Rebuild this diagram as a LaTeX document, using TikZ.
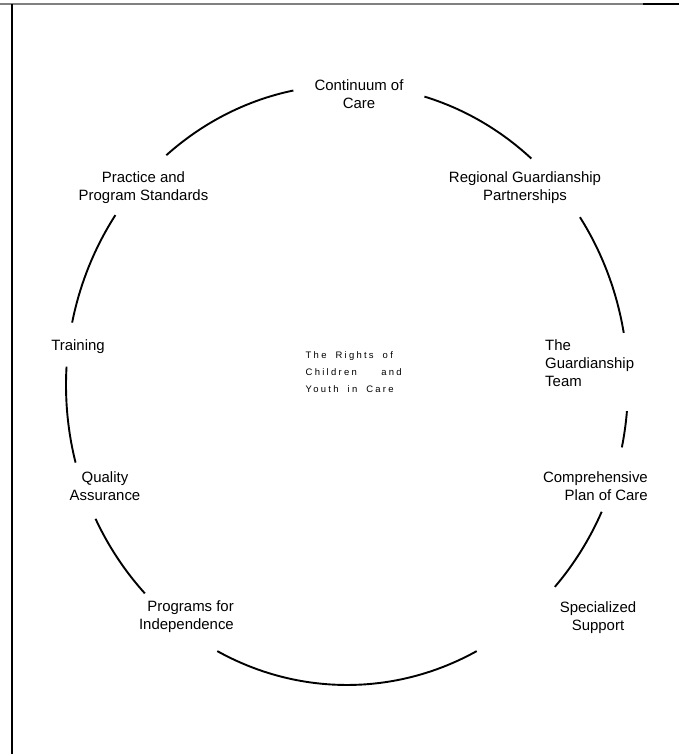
\documentclass[tikz,border=0pt]{standalone}
\usepackage{fontspec}
\setmainfont{Liberation Sans}
\newfontfamily\spacedfont[LetterSpace=24]{Liberation Sans}
\newcommand\corefont{\spacedfont\fontsize{9.5}{17}\selectfont}
\newcommand\wgap{\hspace{9bp}}
\usepackage{xcolor}
\definecolor{inkblack}{RGB}{0,0,0}
\definecolor{rulegray}{RGB}{128,128,128}
\tikzset{
  ring/.style={draw=inkblack, line width=1.9bp, x radius=281, y radius=300},
  lbl/.style={font=\fontsize{15}{18}\selectfont, align=center, inner sep=0pt},
  core/.style={font=\corefont, text width=96bp, align=left, inner sep=0pt},
}

\begin{document}
\begin{tikzpicture}[x=1bp, y=1bp]

  \useasboundingbox (0,0) rectangle (679,754);

  % frame
  \draw[rulegray, line width=1.5bp] (0,750) -- (643,750);
  \draw[inkblack, line width=1.5bp] (643,750) -- (679,750);
  \draw[inkblack, line width=2.2bp] (12,750) -- (12,0);

  \coordinate (ctr) at (347,369);

  % the ring, broken at each label
  \draw[ring] (ctr) ++(101:281 and 300) arc[start angle=101, end angle=130];
  \draw[ring] (ctr) ++(145.5:281 and 300) arc[start angle=145.5, end angle=168];
  \draw[ring] (ctr) ++(176.5:281 and 300) arc[start angle=176.5, end angle=195];
  \draw[ring] (ctr) ++(206.5:281 and 300) arc[start angle=206.5, end angle=224];
  \draw[ring] (ctr) ++(242.5:281 and 300) arc[start angle=242.5, end angle=297.5];
  \draw[ring] (ctr) ++(317.7:281 and 300) arc[start angle=317.7, end angle=335];
  \draw[ring] (ctr) ++(348:281 and 300) arc[start angle=348, end angle=355];
  \draw[ring] (ctr) ++(10:281 and 300) arc[start angle=10, end angle=34];
  \draw[ring] (ctr) ++(49:281 and 300) arc[start angle=49, end angle=74];

  \node[core, anchor=west] (rights) at (305.5,382) {The\wgap Rights\wgap of\\
    \makebox[\linewidth][l]{Children\hfill and}\\Youth\wgap in\wgap Care};

  \node[lbl] (continuum) at (359,660) {Continuum of\\Care};
  \node[lbl] (regional)  at (525,566.5) {Regional Guardianship\\Partnerships};
  \node[lbl, anchor=west, align=left] (team) at (545,391) {The\\Guardianship\\Team};
  \node[lbl, anchor=east, align=right] (plan) at (648,268) {Comprehensive\\Plan of Care};
  \node[lbl] (special)   at (598,136) {Specialized\\Support};
  \node[lbl, anchor=east, align=right] (independ) at (234,137) {Programs for\\Independence};
  \node[lbl] (quality)   at (105,268) {Quality\\Assurance};
  \node[lbl] (training)  at (78,407) {Training};
  \node[lbl] (standards) at (143.5,566.5) {Practice and\\Program Standards};

\end{tikzpicture}
\end{document}
